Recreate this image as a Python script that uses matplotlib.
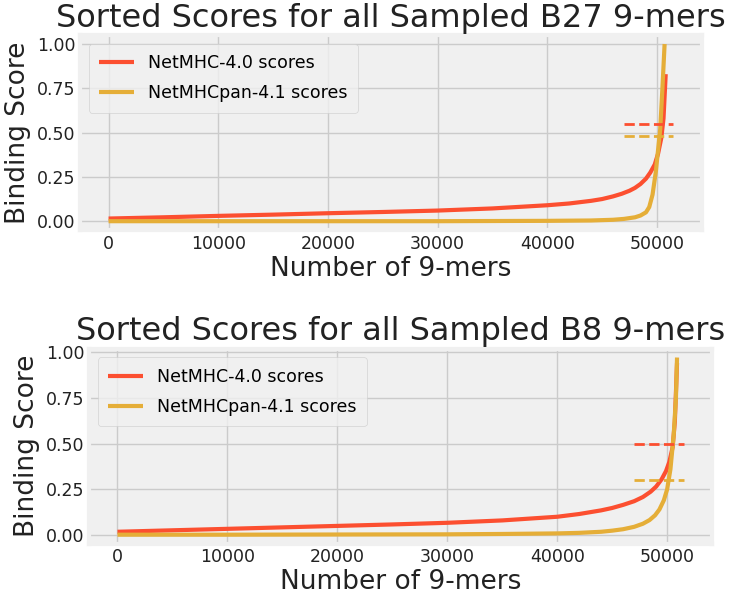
import matplotlib
matplotlib.use('Agg')
import matplotlib.pyplot as plt

# B27 sorted scores
b27_x = [0, 5000, 10000, 15000, 20000, 25000, 30000, 35000, 40000, 42000, 44000,
         45000, 46000, 46800, 47500, 48000, 48500, 49000, 49400, 49800, 50100, 50400,
         50600, 50800]
b27_netmhc = [0.015, 0.022, 0.030, 0.037, 0.045, 0.052, 0.060, 0.072, 0.090, 0.100, 0.115,
              0.125, 0.140, 0.155, 0.172, 0.188, 0.210, 0.240, 0.275, 0.320, 0.380, 0.470,
              0.580, 0.830]
b27_pan_x = [0, 10000, 20000, 30000, 40000, 44000, 46000, 47000, 48000, 48500, 49000,
             49300, 49600, 49900, 50100, 50300, 50500, 50700]
b27_pan = [0.0, 0.0, 0.0, 0.0, 0.002, 0.004, 0.008, 0.013, 0.022, 0.032, 0.05,
           0.08, 0.15, 0.28, 0.40, 0.52, 0.75, 1.0]

# B8 sorted scores
b8_x = [0, 5000, 10000, 15000, 20000, 25000, 30000, 35000, 40000, 42000, 44000,
        45000, 46000, 47000, 47800, 48500, 49000, 49500, 49900, 50200, 50500, 50700, 50900]
b8_netmhc = [0.018, 0.026, 0.034, 0.042, 0.050, 0.058, 0.067, 0.080, 0.100, 0.115, 0.135,
             0.148, 0.165, 0.185, 0.208, 0.237, 0.265, 0.305, 0.350, 0.400, 0.480, 0.620, 0.940]
b8_pan_x = [0, 10000, 20000, 30000, 35000, 40000, 42000, 44000, 45000, 46000, 47000,
            47800, 48400, 48900, 49300, 49700, 50000, 50300, 50600, 50800, 50900]
b8_pan = [0.002, 0.002, 0.003, 0.004, 0.006, 0.009, 0.012, 0.018, 0.024, 0.032, 0.045,
          0.062, 0.082, 0.108, 0.14, 0.19, 0.25, 0.36, 0.55, 0.75, 0.97]

# thresholds drawn as dashed lines
b27_cut = [0.55, 0.48]
b8_cut = [0.50, 0.30]
cut_span = [47000, 51500]

labels = ['NetMHC-4.0 scores', 'NetMHCpan-4.1 scores']
red = '#fc4f30'
orange = '#e5ae38'

plt.style.use('fivethirtyeight')
plt.rcParams['font.family'] = 'DejaVu Sans'

fig = plt.figure(figsize=(7.37, 5.96), dpi=100, facecolor='white')
ax1 = fig.add_axes([0.109, 0.614, 0.843, 0.327])
ax2 = fig.add_axes([0.121, 0.088, 0.845, 0.327])

panels = [
    (ax1, 'B27', b27_x, b27_netmhc, b27_pan_x, b27_pan, b27_cut),
    (ax2, 'B8', b8_x, b8_netmhc, b8_pan_x, b8_pan, b8_cut),
]

for ax, name, x1, y1, x2, y2, cut in panels:
    ax.plot(x1, y1, color=red, lw=3, label=labels[0])
    ax.plot(x2, y2, color=orange, lw=3, label=labels[1])
    ax.hlines(cut[0], cut_span[0], cut_span[1], colors=red, linestyles='--', lw=2)
    ax.hlines(cut[1], cut_span[0], cut_span[1], colors=orange, linestyles='--', lw=2)
    ax.set_title('Sorted Scores for all Sampled %s 9-mers' % name, fontsize=23, pad=6,
                 color='#222222')
    ax.set_xlabel('Number of 9-mers', fontsize=19, labelpad=2, color='#222222')
    ax.set_ylabel('Binding Score', fontsize=19, labelpad=4, color='#222222')
    ax.set_yticks([0, 0.25, 0.5, 0.75, 1.0])
    ax.set_xticks([0, 10000, 20000, 30000, 40000, 50000])
    ax.tick_params(labelsize=12.5, colors='#222222')
    ax.legend(loc='upper left', fontsize=12.5, borderpad=0.6, labelspacing=0.7)

fig.savefig('out.png', dpi=100, facecolor='white')
